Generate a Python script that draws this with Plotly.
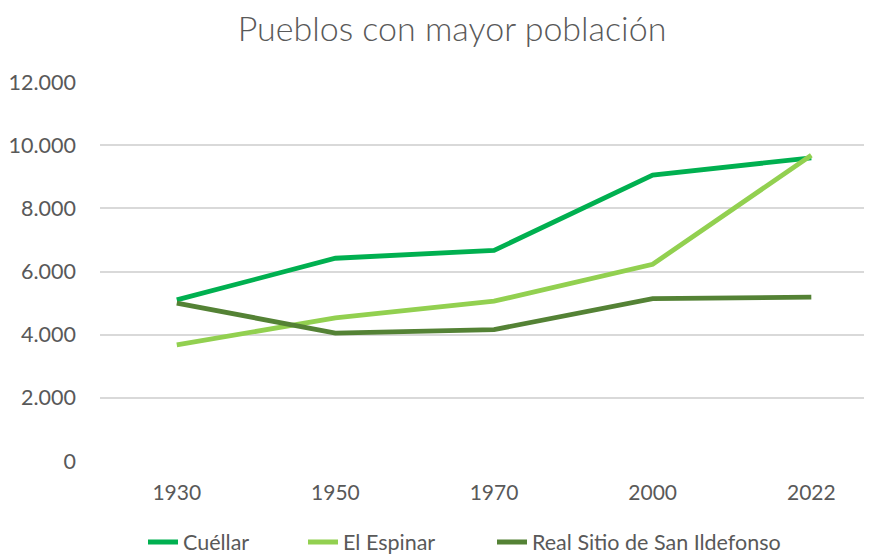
import plotly.graph_objects as go

years = ["1930", "1950", "1970", "2000", "2022"]
cuellar = [5100, 6420, 6670, 9050, 9600]
espinar = [3680, 4530, 5060, 6230, 9680]
ildefonso = [5000, 4050, 4160, 5140, 5190]
series_names = ["Cuéllar", "El Espinar", "Real Sitio de San Ildefonso"]
colors = ["#00B050", "#92D050", "#548235"]
y_ticks = [0, 2000, 4000, 6000, 8000, 10000, 12000]

FONT = "Lato"
GREY = "#595959"
OFF = 8  # page body margin offset
W, H = 872, 556
ML, MR, MT, MB = 100 - OFF, 0, 82 - OFF, H - (461 - OFF)
PW = W - ML - MR
PH = H - MT - MB

def px_x(p):
    return (p - OFF - ML) / PW

def px_y(p):
    return (H - MB - (p - OFF)) / PH

legend_text_starts = [183, 343, 532]
legend_names = ["legend", "legend2", "legend3"]

fig = go.Figure()
for name, vals, col, lg in zip(series_names, [cuellar, espinar, ildefonso], colors, legend_names):
    fig.add_trace(go.Scatter(
        x=years, y=vals, name=name, mode="lines",
        line=dict(color=col, width=4.8), legend=lg,
    ))

legend_common = dict(
    orientation="h", xanchor="left", yanchor="middle",
    y=px_y(542), font=dict(family=FONT, size=21.5, color=GREY),
    itemwidth=30, bgcolor="rgba(0,0,0,0)",
)

fig.update_layout(
    width=W, height=H,
    paper_bgcolor="white", plot_bgcolor="white",
    margin=dict(l=ML, r=MR, t=MT, b=MB, autoexpand=False),
    separators=",.",
    font=dict(family=FONT, color=GREY),
    title=dict(
        text="Pueblos con mayor población",
        font=dict(family=FONT, size=34, color=GREY, weight=300),
        x=px_x(452), xanchor="center", xref="paper",
        y=1 - (29 - OFF) / H, yref="container", yanchor="middle",
    ),
    showlegend=True,
    legend=dict(legend_common, x=px_x(legend_text_starts[0] - 40)),
    legend2=dict(legend_common, x=px_x(legend_text_starts[1] - 40)),
    legend3=dict(legend_common, x=px_x(legend_text_starts[2] - 40)),
    xaxis=dict(
        type="category", range=[-0.484, 4.433],
        showgrid=False, zeroline=False, showline=False,
        ticks="", tickfont=dict(size=21, color=GREY),
        ticklabelstandoff=17, automargin=False,
    ),
    yaxis=dict(
        range=[0, 12000], tickvals=y_ticks, tickformat=",d",
        showgrid=True, gridcolor="#D9D9D9", gridwidth=1.5,
        zeroline=False, showline=False, ticks="",
        tickfont=dict(size=21.5, color=GREY),
        ticklabelstandoff=23, automargin=False,
    ),
)

fig.write_html("out.html")
